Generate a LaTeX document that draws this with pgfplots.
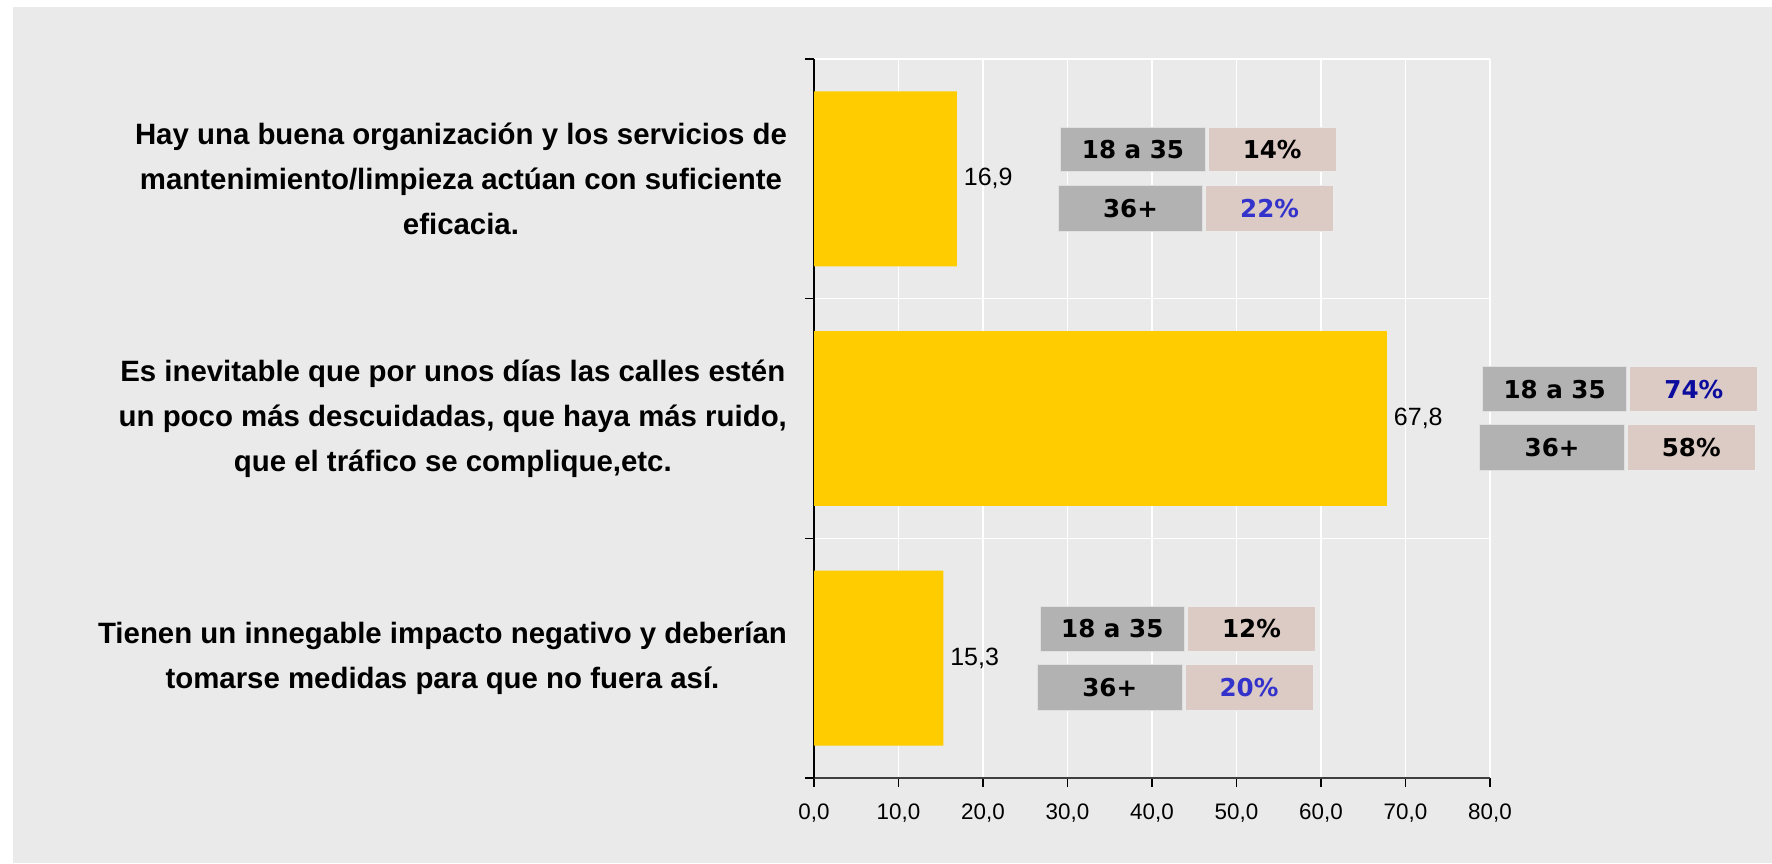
\documentclass[border=0pt]{standalone}
\usepackage{fontspec}
\setmainfont{Liberation Sans}
\newfontfamily\boxfont{DejaVu Sans}
\usepackage{pgfplots}
\pgfplotsset{compat=1.18}

\definecolor{panel}{HTML}{EAEAEA}
\definecolor{baryel}{HTML}{FFCC00}
\definecolor{agegray}{HTML}{B2B2B2}
\definecolor{pctpink}{HTML}{DCCBC4}
\definecolor{blueA}{HTML}{3333CC}
\definecolor{blueB}{HTML}{0B0B9E}

\pgfplotstableread{
y    val
2.5  16.9
1.5  67.8
0.5  15.3
}\mainbars

\begin{document}
\begin{tikzpicture}
\useasboundingbox (0,0) rectangle (886pt,431.5pt);
\fill[white] (0,0) rectangle (886pt,431.5pt);
\fill[panel] (6.5pt,0) rectangle (886pt,428pt);
\begin{axis}[
  at={(407pt,42.5pt)}, anchor=south west,
  scale only axis, width=338pt, height=359.5pt,
  xbar, bar width=0.73,
  xmin=0, xmax=80, ymin=0, ymax=3,
  enlargelimits=false, clip=false,
  axis x line*=bottom, axis y line*=left,
  x axis line style={draw=black!75, line width=0.9pt},
  y axis line style={draw=black, line width=0.6pt},
  xtick={0,10,...,80}, ytick={0,1,2,3}, yticklabels={},
  tick align=outside, major tick length=4.5pt,
  tick style={black, line width=0.6pt},
  xticklabel={\pgfmathprintnumber[fixed,fixed zerofill,precision=1,use comma]{\tick}},
  xticklabel style={font=\fontsize{11.2}{13}\selectfont, yshift=-5pt},
  /pgf/number format/assume math mode=true,
  grid=major, grid style={white, line width=0.8pt},
  point meta=explicit,
  nodes near coords={\pgfmathprintnumber[fixed,fixed zerofill,precision=1,use comma]{\pgfplotspointmeta}},
  nodes near coords style={anchor=west, font=\fontsize{12.5}{14}\selectfont, black},
]
\addplot[fill=baryel, draw=none] table[x=val, y=y, meta=val] {\mainbars};

% category labels
\node[anchor=east, align=center, font=\bfseries\fontsize{14.7}{22.5}\selectfont, xshift=-10pt]
  at (axis cs:0,2.5) {Hay una buena organización y los servicios de\\mantenimiento/limpieza actúan con suficiente\\eficacia.};
\node[anchor=east, align=center, font=\bfseries\fontsize{14.7}{22.5}\selectfont, xshift=-10pt]
  at (axis cs:0,1.5) {Es inevitable que por unos días las calles estén\\un poco más descuidadas, que haya más ruido,\\que el tráfico se complique,etc.};
\node[anchor=east, align=center, font=\bfseries\fontsize{14.7}{22.5}\selectfont, xshift=-10pt]
  at (axis cs:0,0.5) {Tienen un innegable impacto negativo y deberían\\tomarse medidas para que no fuera así.};

% age boxes, first group
\fill[agegray, draw=black!12] (axis cs:29.2,2.529) rectangle (axis cs:46.3,2.716);
\fill[pctpink, draw=black!8] (axis cs:46.65,2.529) rectangle (axis cs:61.8,2.716);
\node[font=\boxfont\bfseries\fontsize{12.3}{14}\selectfont] at (axis cs:37.75,2.6225) {18 a 35};
\node[font=\boxfont\bfseries\fontsize{12.3}{14}\selectfont] at (axis cs:54.225,2.6225) {14\%};
\fill[agegray, draw=black!12] (axis cs:28.9,2.282) rectangle (axis cs:46.0,2.474);
\fill[pctpink, draw=black!8] (axis cs:46.35,2.282) rectangle (axis cs:61.5,2.474);
\node[font=\boxfont\bfseries\fontsize{12.3}{14}\selectfont] at (axis cs:37.45,2.378) {36+};
\node[font=\boxfont\bfseries\fontsize{12.3}{14}\selectfont, text=blueA] at (axis cs:53.925,2.378) {22\%};

% second group
\fill[agegray, draw=black!12] (axis cs:79.1,1.529) rectangle (axis cs:96.2,1.716);
\fill[pctpink, draw=black!8] (axis cs:96.55,1.529) rectangle (axis cs:111.7,1.716);
\node[font=\boxfont\bfseries\fontsize{12.3}{14}\selectfont] at (axis cs:87.65,1.6225) {18 a 35};
\node[font=\boxfont\bfseries\fontsize{12.3}{14}\selectfont, text=blueB] at (axis cs:104.125,1.6225) {74\%};
\fill[agegray, draw=black!12] (axis cs:78.8,1.282) rectangle (axis cs:95.9,1.474);
\fill[pctpink, draw=black!8] (axis cs:96.25,1.282) rectangle (axis cs:111.4,1.474);
\node[font=\boxfont\bfseries\fontsize{12.3}{14}\selectfont] at (axis cs:87.35,1.378) {36+};
\node[font=\boxfont\bfseries\fontsize{12.3}{14}\selectfont] at (axis cs:103.825,1.378) {58\%};

% third group
\fill[agegray, draw=black!12] (axis cs:26.75,0.529) rectangle (axis cs:43.85,0.716);
\fill[pctpink, draw=black!8] (axis cs:44.2,0.529) rectangle (axis cs:59.35,0.716);
\node[font=\boxfont\bfseries\fontsize{12.3}{14}\selectfont] at (axis cs:35.3,0.6225) {18 a 35};
\node[font=\boxfont\bfseries\fontsize{12.3}{14}\selectfont] at (axis cs:51.775,0.6225) {12\%};
\fill[agegray, draw=black!12] (axis cs:26.45,0.282) rectangle (axis cs:43.55,0.474);
\fill[pctpink, draw=black!8] (axis cs:43.9,0.282) rectangle (axis cs:59.05,0.474);
\node[font=\boxfont\bfseries\fontsize{12.3}{14}\selectfont] at (axis cs:35.0,0.378) {36+};
\node[font=\boxfont\bfseries\fontsize{12.3}{14}\selectfont, text=blueA] at (axis cs:51.475,0.378) {20\%};
\end{axis}
\end{tikzpicture}
\end{document}
